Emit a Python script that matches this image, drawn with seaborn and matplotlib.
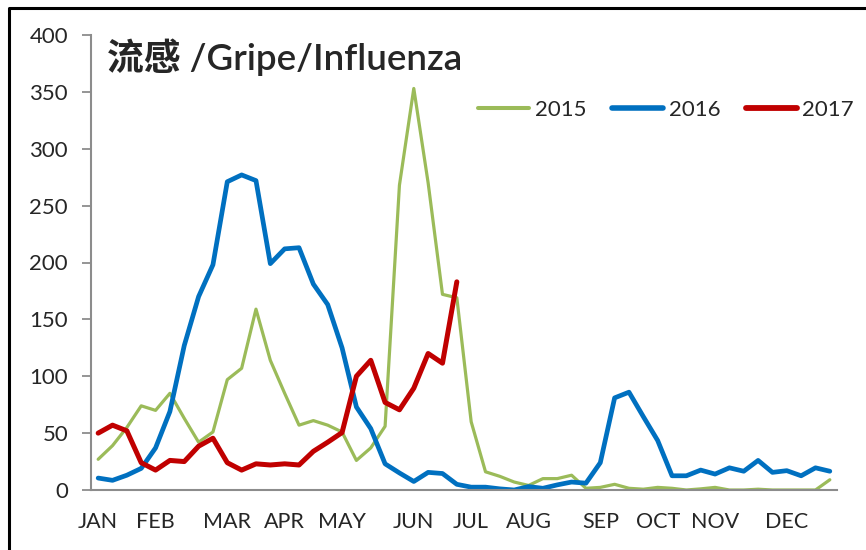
import matplotlib
matplotlib.use("Agg")
import matplotlib.pyplot as plt
from matplotlib.lines import Line2D
import numpy as np
import pandas as pd
import seaborn as sns

# weekly counts
months = ["JAN", "", "", "", "FEB", "", "", "", "", "MAR", "", "", "", "APR", "", "", "",
          "MAY", "", "", "", "", "JUN", "", "", "", "JUL", "", "", "", "AUG", "", "", "", "",
          "SEP", "", "", "", "OCT", "", "", "", "NOV", "", "", "", "", "DEC", "", "", ""]

y2015 = [27, 39, 55, 74, 70, 85, 63, 42, 51, 97, 107, 159, 114, 85, 57, 61, 57, 51, 26, 37,
         56, 268, 353, 270, 172, 169, 60, 16, 12, 7, 4, 10, 10, 13, 1.5, 2.3, 5, 1.5, 0.7, 2.3,
         1.5, 0, 1, 2.3, 0, 0, 0.7, 0, 0, 0, 0, 9]
y2016 = [10.5, 8.5, 13, 19, 37, 69, 127, 170, 198, 271, 277, 272, 199, 212, 213, 181, 163,
         125, 73, 54, 23, 15, 7.5, 15.5, 14.5, 5, 2.5, 2.5, 1, 0, 3, 1.5, 4.5, 7, 6, 24, 81, 86,
         64.5, 43.5, 12.5, 12.5, 17.5, 14, 19.5, 16.5, 26, 15.5, 17, 12.5, 19.5, 16.5]
y2017 = [50, 57, 52, 24, 17.5, 26, 25, 38.5, 45.5, 24, 17.5, 23, 22, 23, 22, 34, 42, 50.5,
         100, 114, 77, 70.5, 89.5, 120, 111.5, 183]

series = [("2015", y2015, "#9BBB59", 2.3),
          ("2016", y2016, "#0070C0", 3.4),
          ("2017", y2017, "#C00000", 3.6)]

sns.set_style("white")
plt.rcParams["font.family"] = ["Lato", "Noto Sans CJK SC", "DejaVu Sans"]

fig = plt.figure(figsize=(8.66, 5.5), dpi=100)
ax = fig.add_axes([91 / 866, 60 / 550, 746 / 866, 455 / 550])

for name, vals, col, lw in series:
    df = pd.DataFrame({"week": np.arange(len(vals)), "cases": vals})
    sns.lineplot(data=df, x="week", y="cases", ax=ax, color=col, linewidth=lw,
                 solid_joinstyle="round", solid_capstyle="round", label=name)

ax.set_xlim(-0.5, len(months) - 0.5)
ax.set_ylim(0, 400)
ax.set_yticks(range(0, 401, 50))
ax.set_xlabel("")
ax.set_ylabel("")

# month labels under the first week of each month, tick marks between weeks
major = [i for i, m in enumerate(months) if m]
ax.set_xticks(major)
ax.set_xticklabels([months[i] for i in major])
ax.set_xticks(np.arange(-0.5, len(months)), minor=True)
ax.tick_params(axis="x", which="major", length=0, pad=16, labelsize=15.5)
ax.tick_params(axis="x", which="minor", length=6.5, width=1.3, color="#8C8C8C", direction="out")
ax.tick_params(axis="y", length=6.5, width=1.3, color="#8C8C8C", direction="out", pad=10,
               labelsize=16, left=True)

sns.despine(ax=ax)
for s in ["left", "bottom"]:
    ax.spines[s].set_color("#8C8C8C")
    ax.spines[s].set_linewidth(1.5)

handles = [Line2D([], [], color=c, linewidth=lw + 0.6, solid_capstyle="round") for _, _, c, lw in series]
fig.legend(handles, [s[0] for s in series], loc="center right", bbox_to_anchor=(874 / 866, 1 - 110 / 550),
           ncol=3, frameon=False, fontsize=16, handlelength=2.3, handletextpad=0.25, columnspacing=1.15)
ax.get_legend().remove()

fig.text(107 / 866, 1 - 57 / 550, "流感 /Gripe/Influenza", fontsize=26.5, weight="semibold",
         va="center", ha="left")

# outer frame, left and top edges visible
fig.add_artist(Line2D([9 / 866, 9 / 866, 1], [0, 1 - 8 / 550, 1 - 8 / 550], color="black",
                      linewidth=2.2, transform=fig.transFigure))

fig.savefig("out.png", dpi=100)
